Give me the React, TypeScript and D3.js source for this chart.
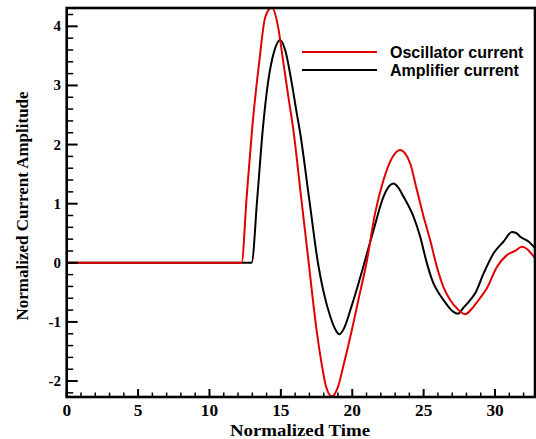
import React from "react";
import * as d3 from "d3";

const oscX = [0, 12.25, 12.6, 13.0, 13.5, 13.9, 14.37, 14.8, 15.15, 15.5, 15.9, 16.4, 16.95, 17.5, 17.85, 18.15, 18.57, 19.0, 19.4, 19.97, 20.5, 21.0, 21.6, 22.19, 22.8, 23.36, 23.7, 24.06, 24.53, 25.0, 25.46, 25.93, 26.39, 26.86, 27.33, 27.9, 28.5, 29.0, 29.43, 30.13, 30.83, 31.4, 31.88, 32.35, 32.82];
const oscY = [0, 0, 1.1, 2.3, 3.43, 4.15, 4.32, 4.0, 3.43, 2.85, 2.2, 1.15, 0, -1.14, -1.7, -2.08, -2.26, -2.1, -1.72, -1.14, -0.55, 0, 0.84, 1.4, 1.78, 1.91, 1.85, 1.68, 1.23, 0.78, 0.38, -0.07, -0.41, -0.63, -0.77, -0.87, -0.74, -0.58, -0.43, -0.07, 0.13, 0.2, 0.27, 0.21, 0.07];

const ampX = [0, 12.95, 13.35, 13.73, 14.13, 14.5, 14.95, 15.3, 15.77, 16.1, 16.35, 17.0, 17.63, 18.0, 18.45, 18.8, 19.1, 19.4, 19.97, 20.4, 20.85, 21.49, 22.19, 22.6, 22.9, 23.2, 23.59, 24.29, 24.76, 25.23, 25.69, 26.16, 26.6, 27.09, 27.4, 27.79, 28.26, 28.6, 29.2, 29.9, 30.6, 31.18, 31.5, 31.77, 32.35, 32.82];
const ampY = [0, 0, 1.1, 2.25, 3.1, 3.55, 3.77, 3.6, 3.03, 2.55, 2.2, 1.05, -0.05, -0.5, -0.9, -1.12, -1.21, -1.12, -0.72, -0.38, 0, 0.55, 1.12, 1.3, 1.34, 1.28, 1.12, 0.78, 0.44, -0.01, -0.35, -0.55, -0.7, -0.83, -0.86, -0.76, -0.63, -0.52, -0.18, 0.16, 0.36, 0.52, 0.5, 0.44, 0.36, 0.24];

const xMajor = [0, 5, 10, 15, 20, 25, 30];
const yMajor = [-2, -1, 0, 1, 2, 3, 4];
const seriesNames = ["Oscillator current", "Amplifier current"];
const seriesColors = ["#e00000", "#000000"];

const W = 536, H = 439;
const L = 66.7, R = 535, T = 8, B = 397;

export default function App() {
  const x = d3.scaleLinear().domain([0, 32.8]).range([L, R]);
  const y = d3.scaleLinear().domain([-2.27, 4.31]).range([B, T]);
  const line = d3
    .line<[number, number]>()
    .x((d) => x(d[0]))
    .y((d) => y(d[1]))
    .curve(d3.curveMonotoneX);
  const osc = oscX.map((v, i) => [v, oscY[i]] as [number, number]);
  const amp = ampX.map((v, i) => [v, ampY[i]] as [number, number]);

  const xMinor = d3.range(0, 33, 1).filter((v) => v % 5 !== 0);
  const yMinor = d3.range(-2.2, 4.31, 0.2).map((v) => Math.round(v * 10) / 10).filter((v) => Math.abs(v - Math.round(v)) > 1e-6);

  const serif = "'Liberation Serif', 'Times New Roman', serif";
  const sans = "'Liberation Sans', Arial, sans-serif";

  return (
    <svg width={W} height={H} style={{ position: "absolute", left: 0, top: 0 }}>
      <rect width={W} height={H} fill="#fff" />
      <defs>
        <clipPath id="clip">
          <rect x={L} y={T} width={R - L} height={B - T} />
        </clipPath>
      </defs>
      <g clipPath="url(#clip)">
        <path d={line(amp) || ""} fill="none" stroke={seriesColors[1]} strokeWidth={2} />
        <path d={line(osc) || ""} fill="none" stroke={seriesColors[0]} strokeWidth={2} />
      </g>
      {xMajor.map((v) => (
        <line key={"xM" + v} x1={x(v)} x2={x(v)} y1={B} y2={B - 8} stroke="#000" strokeWidth={2} />
      ))}
      {xMinor.map((v) => (
        <line key={"xm" + v} x1={x(v)} x2={x(v)} y1={B} y2={B - 4.5} stroke="#000" strokeWidth={1.5} />
      ))}
      {yMajor.map((v) => (
        <line key={"yM" + v} x1={L} x2={L + 11} y1={y(v)} y2={y(v)} stroke="#000" strokeWidth={2} />
      ))}
      {yMinor.map((v) => (
        <line key={"ym" + v} x1={L} x2={L + 6.5} y1={y(v)} y2={y(v)} stroke="#000" strokeWidth={1.5} />
      ))}
      <rect x={L} y={T} width={R - L} height={B - T} fill="none" stroke="#000" strokeWidth={2.6} />
      {xMajor.map((v) => (
        <text key={"xl" + v} transform={`translate(${x(v)}, 415.5) scale(1.08, 1)`} textAnchor="middle" fontFamily={serif} fontWeight="bold" fontSize={16}>
          {v}
        </text>
      ))}
      {yMajor.map((v) => (
        <text key={"yl" + v} x={61} y={y(v) + 5} textAnchor="end" fontFamily={serif} fontWeight="bold" fontSize={15}>
          {v}
        </text>
      ))}
      <text
        transform="translate(300, 436) scale(1.18, 1)"
        textAnchor="middle"
        fontFamily={serif}
        fontWeight="bold"
        fontSize={16}
      >
        Normalized Time
      </text>
      <text
        transform={`translate(28, 206) rotate(-90)`}
        textAnchor="middle"
        fontFamily={serif}
        fontWeight="bold"
        fontSize={17}
      >
        Normalized Current Amplitude
      </text>
      {seriesNames.map((n, i) => (
        <g key={n}>
          <line x1={302} x2={377} y1={52 + i * 18} y2={52 + i * 18} stroke={seriesColors[i]} strokeWidth={2} />
          <text x={390} y={57.5 + i * 18} fontFamily={sans} fontWeight="bold" fontSize={16}>
            {n}
          </text>
        </g>
      ))}
    </svg>
  );
}
